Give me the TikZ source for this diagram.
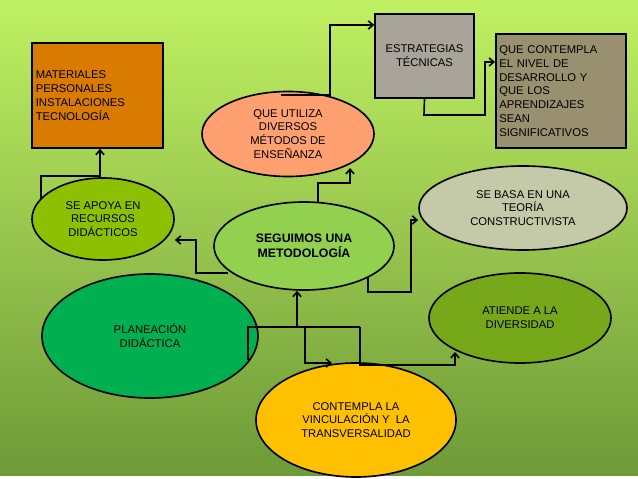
\documentclass[tikz,border=0pt]{standalone}
\usepackage{fontspec}
\setmainfont{Liberation Sans}
\usetikzlibrary{shapes.geometric}
\usetikzlibrary{arrows.meta}
\tikzset{
  oval/.style={ellipse,draw=black,line width=1.4pt,inner sep=0pt,align=center,font=\fontsize{9.6}{11.8}\selectfont},
  box/.style={rectangle,draw=black,line width=1.4pt,inner sep=3pt,align=left,font=\fontsize{9.6}{11.8}\selectfont},
  conn/.style={line width=1.4pt,->,>={Straight Barb[length=4pt,width=7pt]}},
  plain/.style={line width=1.4pt}
}
\begin{document}
\begin{tikzpicture}[x=0.03cm,y=-0.03cm]
  \shade[top color={rgb,255:red,192;green,240;blue,98},bottom color={rgb,255:red,110;green,154;blue,56}] (0,0) rectangle (638,476);
  \fill[white] (0,476) rectangle (638,479);
  \useasboundingbox (0,0) rectangle (638,479);
  % boxes
  \node[box,fill={rgb,255:red,217;green,123;blue,0},minimum width=3.87cm,minimum height=3.15cm,text width=3.7cm] (mat) at (97.5,95.5) {MATERIALES\\PERSONALES\\INSTALACIONES\\TECNOLOGÍA};
  \node[box,fill={rgb,255:red,168;green,164;blue,154},minimum width=2.97cm,minimum height=2.52cm] (est) at (424.5,56) {};
  \node[box,align=center,draw=none] (esttxt) at (424.5,56) {ESTRATEGIAS\\TÉCNICAS};
  \node[box,fill={rgb,255:red,153;green,144;blue,112},minimum width=3.9cm,minimum height=3.42cm,text width=3.7cm] (niv) at (561,91) {QUE CONTEMPLA\\EL NIVEL DE\\DESARROLLO Y\\QUE LOS\\APRENDIZAJES\\SEAN\\SIGNIFICATIVOS};
  % ovals
  \node[oval,fill={rgb,255:red,255;green,160;blue,112},minimum width=5.16cm,minimum height=2.55cm] (uti) at (288,134) {QUE UTILIZA\\DIVERSOS\\MÉTODOS DE\\ENSEÑANZA};
  \node[oval,fill={rgb,255:red,141;green,192;blue,0},minimum width=4.26cm,minimum height=2.46cm] (apo) at (103,219) {SE APOYA EN\\RECURSOS\\DIDÁCTICOS};
  \node[oval,fill={rgb,255:red,146;green,208;blue,80},minimum width=5.4cm,minimum height=2.64cm,font=\bfseries\fontsize{10.5}{13}\selectfont] (seg) at (304,246) {SEGUIMOS UNA\\METODOLOGÍA};
  \node[oval,fill={rgb,255:red,196;green,201;blue,168},minimum width=6.24cm,minimum height=2.52cm] (bas) at (523,208) {SE BASA EN UNA\\TEORÍA\\CONSTRUCTIVISTA};
  \node[oval,fill={rgb,255:red,0;green,176;blue,80},minimum width=6.48cm,minimum height=3.72cm] (pla) at (150,336) {PLANEACIÓN\\DIDÁCTICA};
  \node[oval,fill={rgb,255:red,119;green,168;blue,26},minimum width=5.46cm,minimum height=2.7cm] (ati) at (520,318) {ATIENDE A LA\\DIVERSIDAD};
  \node[oval,fill={rgb,255:red,255;green,192;blue,0},minimum width=6cm,minimum height=3.42cm] (vin) at (356,420) {CONTEMPLA LA\\VINCULACIÓN Y\ \ LA\\TRANSVERSALIDAD};
  % connectors
  \draw[conn] (318,202) -- (318,183) -- (350,183) -- (350,168);
  \draw[conn] (281,95) -- (330,95) -- (330,25) -- (est.west |- 330,25);
  \draw[conn] (est.south) -- (424,115) -- (485,115) -- (485,62) -- (niv.west |- 485,62);
  \draw[conn] (41,200) -- (41,176) -- (100,176) -- (mat.south -| 100,0);
  \draw[conn] (228,273) -- (196,273) -- (196,240) -- (apo.east |- 196,240);
  \draw[conn] (368,277) -- (368,292) -- (411,292) -- (411,220) -- (bas.west |- 411,220);
  \draw[plain] (248,360) -- (248,327) -- (360,327);
  \draw[conn] (297,327) -- (seg.south -| 297,0);
  \draw[conn] (305,327) -- (305,363) -- (332,363);
  \draw[conn] (360,327) -- (360,365) -- (455,365) -- (455,352);
\end{tikzpicture}
\end{document}
